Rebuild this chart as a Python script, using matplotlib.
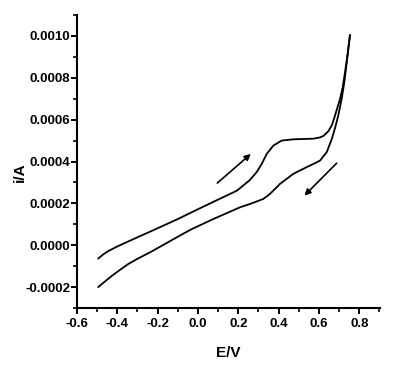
import matplotlib
matplotlib.use("Agg")
import matplotlib.pyplot as plt
from matplotlib.ticker import MultipleLocator, FormatStrFormatter

# Forward (anodic) scan
E_fwd = [-0.495, -0.47, -0.445, -0.40, -0.346, -0.23, -0.10, 0.0, 0.076, 0.192, 0.208, 0.258,
         0.291, 0.316, 0.341, 0.374, 0.415, 0.473, 0.506, 0.572, 0.605, 0.622,
         0.647, 0.665, 0.680, 0.705, 0.718, 0.730, 0.742, 0.754]
i_fwd = [-6.4e-5, -4.4e-5, -2.8e-5, -6e-6, 1.8e-5, 6.8e-5, 1.25e-4, 1.72e-4, 2.07e-4, 2.6e-4, 2.72e-4, 3.12e-4,
         3.49e-4, 3.88e-4, 4.36e-4, 4.76e-4, 5.0e-4, 5.06e-4, 5.07e-4, 5.09e-4, 5.15e-4, 5.22e-4,
         5.45e-4, 5.75e-4, 6.2e-4, 7.0e-4, 7.55e-4, 8.3e-4, 9.1e-4, 1.004e-3]

# Reverse (cathodic) scan
E_rev = [0.754, 0.740, 0.727, 0.713, 0.696, 0.680, 0.664, 0.639, 0.605, 0.572, 0.539,
         0.473, 0.407, 0.357, 0.324, 0.258, 0.208, 0.192, 0.076, -0.031, -0.073,
         -0.23, -0.30, -0.346, -0.39, -0.428, -0.495]
i_rev = [1.004e-3, 8.9e-4, 7.85e-4, 7.0e-4, 6.2e-4, 5.6e-4, 5.08e-4, 4.45e-4, 4.04e-4, 3.88e-4, 3.73e-4,
         3.41e-4, 2.93e-4, 2.45e-4, 2.21e-4, 1.97e-4, 1.81e-4, 1.74e-4, 1.25e-4, 7.7e-5, 5.5e-5,
         -3.0e-5, -6.5e-5, -9.0e-5, -1.2e-4, -1.47e-4, -2.0e-4]

# Scan direction arrows: (tail, head)
arrow_up = [(0.096, 2.97e-4), (0.262, 4.36e-4)]
arrow_down = [(0.688, 3.92e-4), (0.528, 2.37e-4)]

x_label = "E/V"
y_label = "i/A"

tick_font = ['Liberation Sans Narrow', 'Liberation Sans', 'DejaVu Sans']

fig = plt.figure(figsize=(3.95, 3.72), dpi=100)
ax = fig.add_axes([77/395, 1-308/372, (380-77)/395, (308-15)/372])

ax.plot(E_fwd, i_fwd, color='black', lw=1.3, solid_capstyle='round', solid_joinstyle='round')
ax.plot(E_rev, i_rev, color='black', lw=1.3, solid_capstyle='round', solid_joinstyle='round')

for tail, head in (arrow_up, arrow_down):
    ax.annotate('', xy=head, xytext=tail,
                arrowprops=dict(arrowstyle='-|>', lw=1.2, color='black',
                                mutation_scale=9, shrinkA=0, shrinkB=0))

ax.set_xlim(-0.6, 0.903)
ax.set_ylim(-0.0003, 0.0011)

ax.xaxis.set_major_locator(MultipleLocator(0.2))
ax.xaxis.set_minor_locator(MultipleLocator(0.1))
ax.yaxis.set_major_locator(MultipleLocator(0.0002))
ax.yaxis.set_minor_locator(MultipleLocator(0.0001))
ax.xaxis.set_major_formatter(FormatStrFormatter('%.1f'))
ax.yaxis.set_major_formatter(FormatStrFormatter('%.4f'))

for s in ('top', 'right'):
    ax.spines[s].set_visible(False)
for s in ('left', 'bottom'):
    ax.spines[s].set_linewidth(1.5)

ax.tick_params(which='major', direction='out', length=4, width=1.4, pad=1)
ax.tick_params(which='minor', direction='out', length=3, width=1.2)
ax.tick_params(axis='x', which='major', pad=3)

for lab in ax.get_xticklabels() + ax.get_yticklabels():
    lab.set_family(tick_font)
    lab.set_fontweight('bold')
    lab.set_fontsize(9.5)

ax.set_xlabel(x_label, fontsize=11, fontweight='bold', family=['Liberation Sans', 'DejaVu Sans'])
ax.xaxis.set_label_coords(0.498, -0.154)
ax.xaxis.label.set_va('center')
ax.set_ylabel(y_label, fontsize=11, fontweight='bold', family=['Liberation Sans', 'DejaVu Sans'])
ax.yaxis.set_label_coords(-0.188, 0.464)
ax.yaxis.label.set_va('center')

fig.savefig('out.png', dpi=100)
